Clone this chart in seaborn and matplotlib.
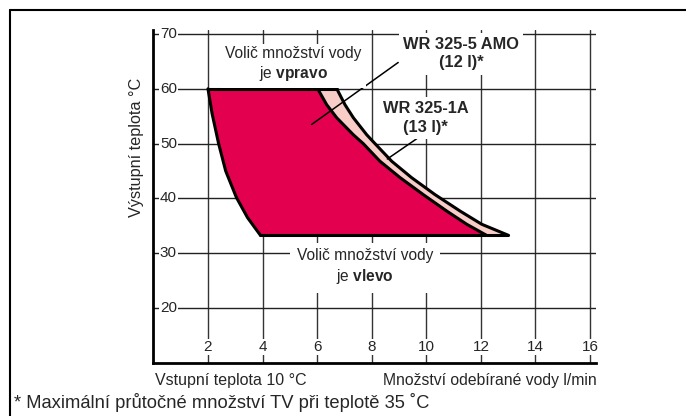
import numpy as np
import pandas as pd
import seaborn as sns
import matplotlib.pyplot as plt
from matplotlib.lines import Line2D

# curve points (x = l/min, y = outlet temperature)
left_x = [2.0, 2.15, 2.39, 2.65, 3.04, 3.45, 3.92]
left_y = [60, 55.5, 50, 45, 40.2, 36.5, 33.3]
inner_x = [6.02, 6.35, 6.72, 7.33, 7.69, 8.30, 9.04, 9.89, 10.75, 11.48, 12.2]
outer_x = [6.72, 7.02, 7.33, 7.82, 8.12, 8.73, 9.46, 10.32, 11.24, 12.03, 13.0]
band_y = [60, 57.1, 54.7, 51.6, 50, 46.8, 43.8, 40.7, 37.7, 35.3, 33.3]

x_ticks = [2, 4, 6, 8, 10, 12, 14, 16]
y_ticks = [20, 30, 40, 50, 60, 70]

dark = "#e2004f"
pink = "#f8cdc7"

sns.set_style("white")
plt.rcParams['font.family'] = ['Liberation Sans', 'DejaVu Sans']
plt.rcParams['mathtext.fontset'] = 'custom'
plt.rcParams['mathtext.rm'] = 'Liberation Sans'
plt.rcParams['mathtext.bf'] = 'Liberation Sans:bold'

fig = plt.figure(figsize=(6.86, 4.16), dpi=100)
ax = fig.add_axes([0.2236, 0.1274, 0.6445, 0.8002])
ax.set_xlim(0, 16.2)
ax.set_ylim(10, 70.7)

# grid
for xv in x_ticks:
    ax.axvline(xv, color="#333333", lw=1, zorder=0)
for yv in y_ticks:
    ax.axhline(yv, color="#222222", lw=1, zorder=0)

# filled areas
dark_px = left_x + inner_x[::-1]
dark_py = left_y + band_y[::-1]
ax.fill(dark_px, dark_py, color=dark, lw=0, zorder=2)
pink_px = inner_x + outer_x[::-1]
pink_py = band_y + band_y[::-1]
ax.fill(pink_px, pink_py, color=pink, lw=0, zorder=2)

# outlines
outl = dict(color="black", lw=2.2, zorder=3, legend=False, solid_joinstyle="round")
sns.lineplot(x=left_x, y=left_y, sort=False, ax=ax, **outl)
sns.lineplot(x=inner_x, y=band_y, sort=False, ax=ax, **outl)
sns.lineplot(x=outer_x, y=band_y, sort=False, ax=ax, **outl)
sns.lineplot(x=[left_x[0], outer_x[0]], y=[60, 60], ax=ax, **outl)
sns.lineplot(x=[left_x[-1], outer_x[-1]], y=[band_y[-1], band_y[-1]], ax=ax, **outl)

# pointer lines
ax.plot([8.97, 5.8], [64.8, 53.5], color="black", lw=1.1, zorder=4)
ax.plot([9.65, 8.57], [50.9, 47.2], color="black", lw=1.1, zorder=4)

# tick labels inside the plot
wb = dict(facecolor="white", edgecolor="none", pad=0.5)
for yv in y_ticks:
    ax.text(0.55, yv, str(yv), ha="center", va="center", fontsize=11, bbox=wb, zorder=5)
for xv in x_ticks:
    ax.text(xv, 12.9, str(xv), ha="center", va="center", fontsize=11, bbox=wb, zorder=5)
ax.set_xticks([])
ax.set_yticks([])

for s in ["top", "right"]:
    ax.spines[s].set_visible(False)
ax.spines["left"].set_linewidth(2)
ax.spines["bottom"].set_linewidth(2)
ax.spines["left"].set_color("black")
ax.spines["bottom"].set_color("black")

# annotations
box = dict(facecolor="white", edgecolor="none", pad=3)
ax.text(5.12, 64.4, "Volič množství vody\nje $\\bf{vpravo}$", ha="center", va="center",
        fontsize=11.2, linespacing=1.25, bbox=box, zorder=5)
ax.text(11.27, 66.4, "WR 325-5 AMO\n(12 l)*", ha="center", va="center",
        fontsize=11.8, fontweight="bold", linespacing=1.3, bbox=box, zorder=5)
ax.text(9.97, 54.7, "WR 325-1A\n(13 l)*", ha="center", va="center",
        fontsize=11.8, fontweight="bold", linespacing=1.3, bbox=box, zorder=5)
ax.text(7.75, 27.55, "Volič množství vody\nje $\\bf{vlevo}$", ha="center", va="center",
        fontsize=11.2, linespacing=1.25, bbox=dict(facecolor="white", edgecolor="none", pad=5), zorder=5)

fig.text(137 / 686, 1 - 147 / 416, "Výstupní teplota °C", rotation=90, ha="center", va="center", fontsize=11.7)
fig.text(155 / 686, 1 - 381 / 416, "Vstupní teplota 10 °C", ha="left", va="center", fontsize=11.5)
fig.text(597 / 686, 1 - 381 / 416, "Množství odebírané vody l/min", ha="right", va="center", fontsize=11.3)
fig.text(14 / 686, 1 - 402 / 416, "* Maximální průtočné množství TV při teplotě 35 ˚C", ha="left", va="center", fontsize=13.2)

# outer frame (top and left)
fig.add_artist(Line2D([10 / 686, 1], [1 - 9.5 / 416, 1 - 9.5 / 416], transform=fig.transFigure, color="black", lw=1.5))
fig.add_artist(Line2D([10 / 686, 10 / 686], [0, 1 - 9.5 / 416], transform=fig.transFigure, color="black", lw=1.5))

fig.savefig("out.png", dpi=100)
